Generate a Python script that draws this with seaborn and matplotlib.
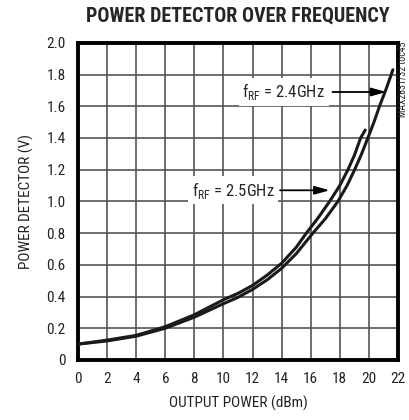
import matplotlib
matplotlib.use("Agg")
import matplotlib.pyplot as plt
import seaborn as sns
import pandas as pd

# curve readings (output power in dBm, detector voltage in V)
power_25 = [0, 2, 4, 6, 8, 10, 11, 12, 13, 14, 15, 15.7, 16.5, 17.3, 18, 18.56, 19, 19.43, 19.75]
volts_25 = [0.10, 0.125, 0.155, 0.21, 0.285, 0.38, 0.42, 0.47, 0.535, 0.61, 0.71, 0.80, 0.895,
            1.00, 1.10, 1.20, 1.29, 1.40, 1.45]

power_24 = [0, 2, 4, 6, 8, 10, 11, 12, 13, 14, 15, 16.15, 17, 17.87, 18.5, 19.02, 19.5, 19.93,
            20.35, 20.73, 21.15, 21.54, 21.65]
volts_24 = [0.10, 0.12, 0.15, 0.20, 0.27, 0.355, 0.395, 0.445, 0.505, 0.578, 0.67, 0.80, 0.89,
            1.00, 1.10, 1.20, 1.30, 1.40, 1.50, 1.60, 1.70, 1.80, 1.83]

x_ticks = list(range(0, 23, 2))
y_ticks = [0, 0.2, 0.4, 0.6, 0.8, 1.0, 1.2, 1.4, 1.6, 1.8, 2.0]
y_labels = ["0", "0.2", "0.4", "0.6", "0.8", "1.0", "1.2", "1.4", "1.6", "1.8", "2.0"]

df = pd.concat([
    pd.DataFrame({"power": power_25, "volts": volts_25, "freq": "2.5GHz"}),
    pd.DataFrame({"power": power_24, "volts": volts_24, "freq": "2.4GHz"}),
])

sns.set_style("white")
plt.rcParams["font.family"] = ["Roboto Condensed", "DejaVu Sans"]
plt.rcParams["font.stretch"] = "condensed"

fig = plt.figure(figsize=(4.09, 4.20), dpi=100)
ax = fig.add_axes([0.191, 0.143, 0.782, 0.755])

sns.lineplot(data=df, x="power", y="volts", hue="freq", sort=False,
             palette=["#1a1a1a", "#1a1a1a"], linewidth=2.2, legend=False,
             ax=ax, zorder=3)

ax.set_xlim(0, 22)
ax.set_ylim(0, 2.0)
ax.set_xticks(x_ticks)
ax.set_yticks(y_ticks)
ax.set_yticklabels(y_labels)
ax.grid(True, color="#555555", linewidth=1.2)
ax.set_axisbelow(True)
for s in ax.spines.values():
    s.set_linewidth(2.8)
    s.set_color("black")
ax.tick_params(length=0, labelsize=11, pad=9, colors="#222222")

ax.set_xlabel("OUTPUT POWER (dBm)", fontsize=11, color="#222222", labelpad=7)
ax.set_ylabel("POWER DETECTOR (V)", fontsize=11, color="#222222", labelpad=9)
ax.set_title("POWER DETECTOR OVER FREQUENCY", fontsize=14.5, fontweight="bold", pad=15)

bbox = dict(boxstyle="square,pad=0.2", facecolor="white", edgecolor="none")
ax.annotate("", xy=(21.4, 1.69), xytext=(17.3, 1.69),
            arrowprops=dict(arrowstyle="-|>,head_length=0.9,head_width=0.25",
                            color="black", lw=1.3), zorder=4)
ax.text(11.3, 1.69, r"f$_{\mathregular{RF}}$ = 2.4GHz", fontsize=12,
        va="center", ha="left", bbox=bbox, zorder=5)
ax.annotate("", xy=(17.5, 1.07), xytext=(13.7, 1.07),
            arrowprops=dict(arrowstyle="-|>,head_length=0.9,head_width=0.25",
                            color="black", lw=1.3), zorder=4)
ax.text(7.8, 1.07, r"f$_{\mathregular{RF}}$ = 2.5GHz", fontsize=12,
        va="center", ha="left", bbox=bbox, zorder=5)

fig.text(0.984, 0.9, "MAX2831/32 toc45", rotation=90, fontsize=7,
         va="top", ha="center", color="#222222")

fig.savefig("out.png", dpi=100)
